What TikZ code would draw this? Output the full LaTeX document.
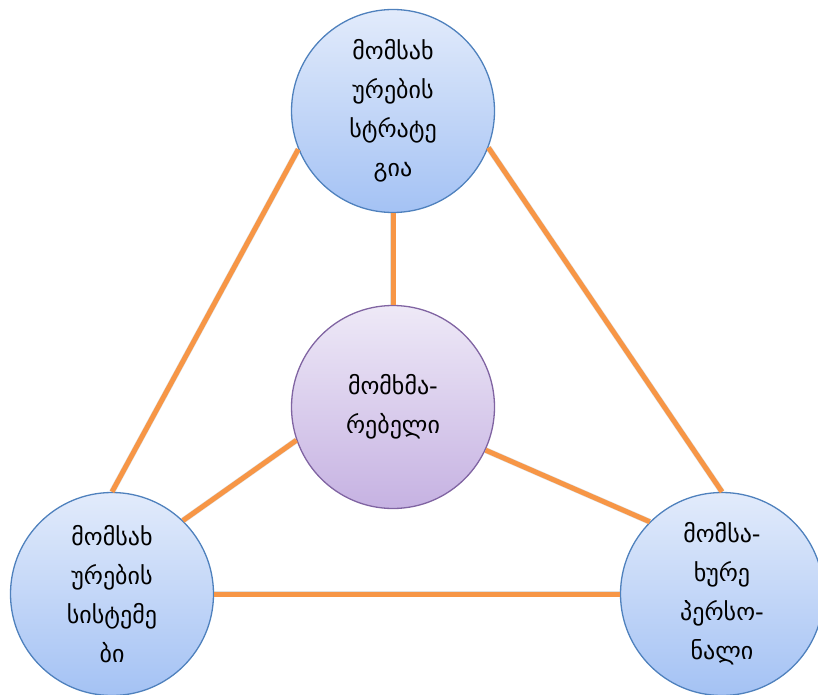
\documentclass[tikz,border=0pt]{standalone}
\usepackage{fontspec}
\newfontfamily\geo[Script=Georgian]{DejaVu Sans}
\definecolor{linkorange}{HTML}{F79646}
\definecolor{blueedge}{HTML}{4F81BD}
\definecolor{bluetop}{HTML}{E2EBFB}
\definecolor{bluebot}{HTML}{A4C2F4}
\definecolor{violetedge}{HTML}{8064A2}
\definecolor{violettop}{HTML}{EEE9F7}
\definecolor{violetbot}{HTML}{C6B2E2}
\begin{document}
\begin{tikzpicture}[x=1pt,y=-1pt,
  bubble/.style={circle, minimum size=203pt, inner sep=0pt, line width=1.3pt,
    align=center, font=\geo\fontsize{24}{39}\selectfont},
  bluebubble/.style={bubble, draw=blueedge, top color=bluetop, bottom color=bluebot},
  violetbubble/.style={bubble, draw=violetedge, top color=violettop, bottom color=violetbot},
  link/.style={draw=linkorange, line width=5pt},
  linkshadow/.style={draw=black, opacity=0.12, line width=6pt, shift={(0.8,2.2)}}]
\useasboundingbox (0,0) rectangle (818,695);

% the four bubbles
\node[bluebubble] (strategy) at (393,111) {მომსახ\\ურების\\სტრატე\\გია};
\node[violetbubble] (customer) at (393,407) {მომხმა-\\რებელი};
\node[bluebubble] (systems) at (112,594) {მომსახ\\ურების\\სისტემე\\ბი};
\node[bluebubble] (staff) at (722,594) {მომსა-\\ხურე\\პერსო-\\ნალი};

% soft shadows under the links
\path[linkshadow] (strategy.202) -- (systems.north);
\path[linkshadow] (strategy.339) -- (staff.north);
\path[linkshadow] (strategy.south) -- (customer.north);
\path[linkshadow] (customer.199) -- (systems.46);
\path[linkshadow] (customer.335) -- (staff.135);
\path[linkshadow] (systems.east) -- (staff.west);

% orange links between the bubbles
\path[link] (strategy.202) -- (systems.north);
\path[link] (strategy.339) -- (staff.north);
\path[link] (strategy.south) -- (customer.north);
\path[link] (customer.199) -- (systems.46);
\path[link] (customer.335) -- (staff.135);
\path[link] (systems.east) -- (staff.west);
\end{tikzpicture}
\end{document}
